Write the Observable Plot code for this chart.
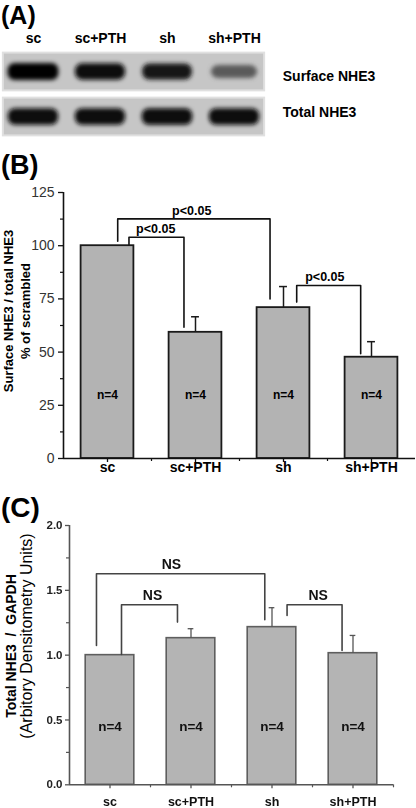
<!DOCTYPE html>
<html><head><meta charset="utf-8">
<script src="https://cdn.jsdelivr.net/npm/d3@7"></script>
<script src="https://cdn.jsdelivr.net/npm/@observablehq/plot@0.6"></script>
<style>
body{margin:0;background:#fff;}
#fig{position:relative;width:416px;height:808px;overflow:hidden;font-family:"Liberation Sans",Arial,Helvetica,sans-serif;color:#000;}
.plbl{position:absolute;left:1px;font-weight:bold;line-height:1.15;white-space:pre;}
.rot{position:absolute;line-height:1;white-space:pre;transform:translate(-50%,-50%) rotate(-90deg);}
</style></head><body><div id="fig"></div>
<script>
// ---------- data ----------
const groups = ["sc", "sc+PTH", "sh", "sh+PTH"];
const blotRows = ["Surface NHE3", "Total NHE3"];
const surfaceIntensity = [1.0, 0.92, 0.88, 0.55];
const totalIntensity = [0.93, 0.93, 0.96, 0.93];

const surfaceRatio = [100, 59.3, 70.9, 47.6];
const surfaceRatioErr = [0, 7.3, 9.9, 7.3];
const ticksB = [0, 25, 50, 75, 100, 125];
const minorB = [12.5, 37.5, 62.5, 87.5, 112.5];
const nLabelsB = ["n=4", "n=4", "n=4", "n=4"];
const bracketLeftB = [0.116, 0.244, 2.15];
const bracketRightB = [1.847, 0.869, 2.877];
const bracketTopB = [112.6, 104.0, 81.3];
const bracketLeftEndB = [102.1, 100.6, 73.5];
const bracketRightEndB = [75.0, 61.7, 49.2];
const bracketLabelB = ["p<0.05", "p<0.05", "p<0.05"];
const bracketLabelXB = [0.957, 0.548, 2.47];

const totalRatio = [1.0, 1.131, 1.216, 1.015];
const totalRatioErr = [0, 0.073, 0.15, 0.137];
const ticksC = [0.0, 0.5, 1.0, 1.5, 2.0];
const minorC = [0.25, 0.75, 1.25, 1.75];
const nLabelsC = ["n=4", "n=4", "n=4", "n=4"];
const bracketLeftC = [-0.167, 0.142, 2.186];
const bracketRightC = [1.911, 0.833, 2.865];
const bracketTopC = [1.628, 1.389, 1.389];
const bracketLeftEndC = [1.075, 1.005, 1.306];
const bracketRightEndC = [1.273, 1.255, 1.036];
const bracketLabelC = ["NS", "NS", "NS"];
const bracketLabelXC = [0.759, 0.525, 2.57];

// ---------- helpers ----------
const FONT = '"Liberation Sans", Arial, Helvetica, sans-serif';
const fig = document.getElementById("fig");
const idx = d3.range(groups.length);
function place(el, top) {
  el.style.position = "absolute"; el.style.left = "0px"; el.style.top = top + "px";
  fig.appendChild(el); return el;
}
function label(text, top, size) {
  const d = document.createElement("div");
  d.className = "plbl"; d.textContent = text;
  d.style.top = top + "px"; d.style.fontSize = size + "px";
  fig.appendChild(d);
}
function rotLabel(text, cx, cy, size, weight) {
  const d = document.createElement("div");
  d.className = "rot"; d.textContent = text;
  d.style.left = cx + "px"; d.style.top = cy + "px";
  d.style.fontSize = size + "px"; d.style.fontWeight = weight;
  fig.appendChild(d);
}
function bracketPoints(L, R, T, LE, RE) {
  const pts = [];
  L.forEach((x1, k) => {
    pts.push({k, x: x1, y: LE[k]}, {k, x: x1, y: T[k]}, {k, x: R[k], y: T[k]}, {k, x: R[k], y: RE[k]});
  });
  return pts;
}
const shade = v => d3.interpolateRgb("#c7c7c7", "#000000")(v);

// ---------- Panel A: blots ----------
const bands = [];
blotRows.forEach((row, r) => {
  const vals = r === 0 ? surfaceIntensity : totalIntensity;
  vals.forEach((v, i) => bands.push({lane: i, row: r, v}));
});
const chartA = Plot.plot({
  width: 416, height: 140, margin: 0,
  x: {domain: [0, 3], range: [33, 234], axis: null},
  y: {domain: [0, 1], range: [71.5, 116.5], axis: null},
  style: {fontFamily: FONT, background: "transparent", overflow: "visible"},
  marks: [
    Plot.rect(blotRows, {x1: -0.45, x2: 3.45, y1: (d, i) => i - 0.42, y2: (d, i) => i + 0.42,
      fill: "#c6c6c6", stroke: "#e0e0e0", strokeWidth: 2}),
    Plot.rect(bands, {x1: d => d.lane - (0.3 + 0.08 * d.v), x2: d => d.lane + (0.3 + 0.08 * d.v),
      y1: d => d.row - (4 + 4.5 * d.v) / 45, y2: d => d.row + (4 + 4.5 * d.v) / 45,
      fill: d => shade(d.v), rx: 7}),
    Plot.text(groups, {x: (d, i) => i, y: -0.75, text: d => d, fontSize: 14, fontWeight: "bold", fill: "#000"}),
    Plot.text(blotRows, {x: 3.72, y: (d, i) => 0.1 + 0.8 * i, text: d => d, textAnchor: "start",
      fontSize: 14, fontWeight: "bold", fill: "#000"})
  ]
});
place(chartA, 0);
{
  const ns = "http://www.w3.org/2000/svg";
  const defs = document.createElementNS(ns, "defs");
  const filt = document.createElementNS(ns, "filter");
  filt.setAttribute("id", "blotblur");
  filt.setAttribute("x", "-30%"); filt.setAttribute("y", "-100%");
  filt.setAttribute("width", "160%"); filt.setAttribute("height", "300%");
  const gb = document.createElementNS(ns, "feGaussianBlur");
  gb.setAttribute("stdDeviation", "2.2");
  filt.appendChild(gb); defs.appendChild(filt);
  chartA.insertBefore(defs, chartA.firstChild);
  const rectGroups = chartA.querySelectorAll('g[aria-label="rect"]');
  if (rectGroups.length > 1) rectGroups[1].setAttribute("filter", "url(#blotblur)");
}

// ---------- Panel B ----------
const hasErrB = idx.filter(i => surfaceRatioErr[i] > 0);
const chartB = Plot.plot({
  width: 416, height: 350, marginLeft: 63, marginRight: 1, marginTop: 52, marginBottom: 32,
  x: {type: "linear", domain: [-0.5, 3.5], range: [63, 415]},
  y: {domain: [0, 125], range: [318, 52]},
  style: {fontFamily: FONT, background: "transparent", overflow: "visible"},
  marks: [
    Plot.rect(idx, {x1: i => i - 0.3, x2: i => i + 0.3, y1: 0, y2: i => surfaceRatio[i],
      fill: "#b3b3b3", stroke: "#1a1a1a", strokeWidth: 1.8}),
    Plot.ruleX(hasErrB, {x: i => i, y1: i => surfaceRatio[i], y2: i => surfaceRatio[i] + surfaceRatioErr[i],
      stroke: "#1a1a1a", strokeWidth: 1.5}),
    Plot.ruleY(hasErrB, {y: i => surfaceRatio[i] + surfaceRatioErr[i], x1: i => i - 0.045, x2: i => i + 0.045,
      stroke: "#1a1a1a", strokeWidth: 1.5}),
    Plot.line(bracketPoints(bracketLeftB, bracketRightB, bracketTopB, bracketLeftEndB, bracketRightEndB),
      {x: "x", y: "y", z: "k", stroke: "#111", strokeWidth: 1.6}),
    Plot.text(bracketLabelB, {x: (d, i) => bracketLabelXB[i], y: (d, i) => bracketTopB[i], dy: -8,
      text: d => d, fontSize: 12.5, fontWeight: "bold", fill: "#000"}),
    Plot.text(nLabelsB, {x: (d, i) => i, y: 30, text: d => d, fontSize: 12, fontWeight: "bold", fill: "#000"}),
    Plot.axisY(ticksB, {tickSize: 5, tickPadding: 4, fontSize: 14, fill: "#333", stroke: "#111",
      strokeWidth: 1.3, label: null}),
    Plot.axisY(minorB, {tickSize: 3, tickFormat: () => "", stroke: "#111", strokeWidth: 1.2, label: null}),
    Plot.axisX(idx, {tickSize: 4, tickPadding: 0, tickFormat: i => groups[i], fontSize: 14,
      fontWeight: "bold", fill: "#000", stroke: "#111", strokeWidth: 1.3, label: null}),
    Plot.axisX([0.5, 1.5, 2.5], {tickSize: 3, tickFormat: () => "", stroke: "#111", strokeWidth: 1.2, label: null}),
    Plot.ruleX([-0.5], {stroke: "#111", strokeWidth: 1.6}),
    Plot.ruleY([0], {stroke: "#111", strokeWidth: 1.6})
  ]
});
place(chartB, 140);

// ---------- Panel C ----------
const hasErrC = idx.filter(i => totalRatioErr[i] > 0);
const chartC = Plot.plot({
  width: 416, height: 318, marginLeft: 69, marginRight: 23, marginTop: 35, marginBottom: 23.7,
  x: {type: "linear", domain: [-0.5, 3.5], range: [69, 393]},
  y: {domain: [0, 2], range: [294.3, 35]},
  style: {fontFamily: FONT, background: "transparent", overflow: "visible"},
  marks: [
    Plot.rect(idx, {x1: i => i - 0.3, x2: i => i + 0.3, y1: 0, y2: i => totalRatio[i],
      fill: "#b4b4b4", stroke: "#5e5e5e", strokeWidth: 1.6}),
    Plot.ruleX(hasErrC, {x: i => i, y1: i => totalRatio[i], y2: i => totalRatio[i] + totalRatioErr[i],
      stroke: "#555", strokeWidth: 1.3}),
    Plot.ruleY(hasErrC, {y: i => totalRatio[i] + totalRatioErr[i], x1: i => i - 0.035, x2: i => i + 0.035,
      stroke: "#555", strokeWidth: 1.3}),
    Plot.line(bracketPoints(bracketLeftC, bracketRightC, bracketTopC, bracketLeftEndC, bracketRightEndC),
      {x: "x", y: "y", z: "k", stroke: "#444", strokeWidth: 1.6}),
    Plot.text(bracketLabelC, {x: (d, i) => bracketLabelXC[i], y: (d, i) => bracketTopC[i], dy: -9,
      text: d => d, fontSize: 14, fontWeight: "bold", fill: "#111"}),
    Plot.text(nLabelsC, {x: (d, i) => i, y: 0.45, text: d => d, fontSize: 13.5, fontWeight: "bold", fill: "#111"}),
    Plot.axisY(ticksC, {tickSize: 4, tickPadding: 3, tickFormat: d3.format(".1f"), fontSize: 11.5,
      fontWeight: "bold", fill: "#222", stroke: "#555", strokeWidth: 1.3, label: null}),
    Plot.axisY(minorC, {tickSize: 3, tickFormat: () => "", stroke: "#555", strokeWidth: 1.2, label: null}),
    Plot.axisX(idx, {tickSize: 4, tickPadding: 8, tickFormat: i => groups[i], fontSize: 12.5,
      fontWeight: "bold", fill: "#111", stroke: "#555", strokeWidth: 1.3, label: null}),
    Plot.axisX([0.5, 1.5, 2.5, 3.5], {tickSize: 3, tickFormat: () => "", stroke: "#555", strokeWidth: 1.2, label: null}),
    Plot.ruleX([-0.5], {stroke: "#555", strokeWidth: 1.6}),
    Plot.ruleY([0], {stroke: "#555", strokeWidth: 1.6})
  ]
});
chartC.style.filter = "blur(0.35px)";
place(chartC, 490);

// ---------- panel letters and axis titles ----------
label("(A)", 1, 25);
label("(B)", 150, 27);
label("(C)", 492, 28);
rotLabel("Surface NHE3 / total NHE3", 8, 311, 13, "bold");
rotLabel("% of scrambled", 25, 311, 13, "bold");
rotLabel("Total NHE3  /  GAPDH", 11, 646, 14, "bold");
rotLabel("(Arbitory Densitometry Units)", 27, 636, 16, "normal");
</script>
</body></html>
